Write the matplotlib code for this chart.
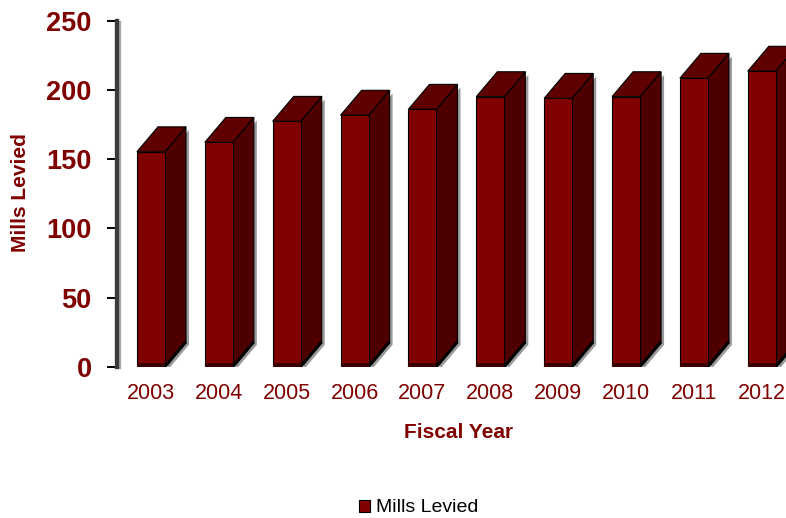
import matplotlib
matplotlib.use("Agg")
import matplotlib.pyplot as plt
from matplotlib.patches import Polygon
from matplotlib import transforms
import numpy as np

# Mills levied per fiscal year
years = ["2003", "2004", "2005", "2006", "2007", "2008", "2009", "2010", "2011", "2012"]
mills = [155.3, 162.1, 177.3, 181.7, 186.0, 195.1, 193.9, 195.1, 208.4, 213.5]
y_ticks = [0, 50, 100, 150, 200, 250]

plt.rcParams["font.family"] = ["Liberation Sans", "DejaVu Sans"]

MAROON = "#800000"
SIDE = "#4e0000"
TOP = "#5e0000"

W, H = 786, 518
fig = plt.figure(figsize=(W / 100, H / 100), dpi=100)
ax = fig.add_axes([117 / W, 151.3 / H, 678.7 / W, 346 / H])

x = np.arange(len(years))
w = 0.413      # bar face width (category units)
dx = 0.31      # depth offset along x (category units)
dy = 18.0      # depth offset along y (value units)

shadow_tr = transforms.offset_copy(ax.transData, fig=fig, x=3, y=-3, units="dots")

bars = ax.bar(x, mills, width=w, color=MAROON, edgecolor="black",
              linewidth=0.8, label="Mills Levied", zorder=3)

for xi, v in zip(x, mills):
    left, right = xi - w / 2, xi + w / 2
    side_pts = [(right, 0), (right + dx, dy), (right + dx, v + dy), (right, v)]
    top_pts = [(left, v), (left + dx, v + dy), (right + dx, v + dy), (right, v)]
    # soft drop shadow behind the side face
    ax.add_patch(Polygon(side_pts, closed=True, facecolor="#9a9a9a",
                         edgecolor="none", transform=shadow_tr, zorder=1))
    ax.add_patch(Polygon(side_pts, closed=True, facecolor=SIDE,
                         edgecolor="black", linewidth=0.8, zorder=2))
    ax.add_patch(Polygon(top_pts, closed=True, facecolor=TOP,
                         edgecolor="black", linewidth=0.8, zorder=2))
    ax.plot([right, right + dx], [0, dy], color="black", lw=2.2,
            solid_capstyle="butt", zorder=2.5)
    # darker floor strip along the bottom of the front face
    ax.bar(xi, 3.0, width=w, color="#3c0000", edgecolor="none", zorder=3.5)

ax.set_xlim(-0.5, len(years) - 0.5)
ax.set_ylim(0, 250)
ax.set_xticks(x)
ax.set_xticklabels(years, color=MAROON, fontsize=15.5)
ax.set_yticks(y_ticks)
ax.set_yticklabels([str(t) for t in y_ticks], color=MAROON, fontsize=19.5,
                   fontweight="bold")
ax.tick_params(axis="x", length=0, pad=12)
ax.tick_params(axis="y", direction="out", length=7.2, width=1.4,
               color="black", pad=11)

for s in ("top", "right", "bottom"):
    ax.spines[s].set_visible(False)
ax.spines["left"].set_color("#3a3a3a")
ax.spines["left"].set_linewidth(3.1)
ax.spines["left"].set_zorder(5)

# light shadow alongside the value axis
ax.plot([0, 0], [0, 1], transform=transforms.offset_copy(ax.transAxes, fig=fig, x=3, y=-1, units="dots"),
        color="#a8a8a8", lw=1.6, zorder=4, clip_on=False)

fig.text(21 / W, 1 - 192.5 / H, "Mills Levied", rotation=90, ha="center",
         va="center", fontsize=15, fontweight="bold", color=MAROON)
fig.text(459 / W, 1 - 433 / H, "Fiscal Year", ha="center", va="center",
         fontsize=15, fontweight="bold", color=MAROON)

fig.legend(handles=[bars], loc="center", bbox_to_anchor=(418.5 / W, 10 / H),
           frameon=False, fontsize=14, handlelength=0.58, handleheight=0.58,
           handletextpad=0.3, borderpad=0)

fig.savefig("out.png", dpi=100)
